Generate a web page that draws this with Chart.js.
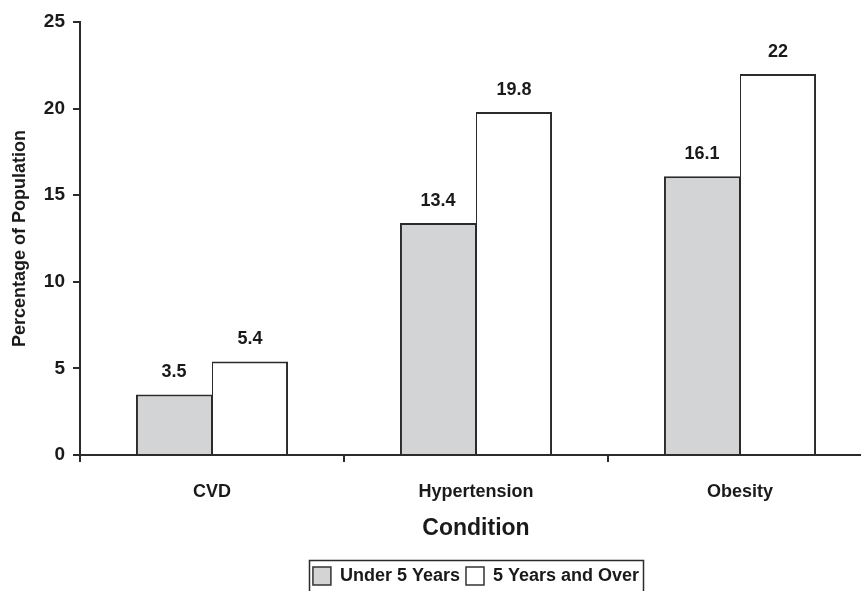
<!DOCTYPE html>
<html>
<head>
<meta charset="utf-8">
<script src="https://cdn.jsdelivr.net/npm/chart.js@4"></script>
<style>
  html, body { margin: 0; padding: 0; background: #ffffff; overflow: hidden; }
  #wrap { position: relative; width: 876px; height: 591px; }
</style>
</head>
<body>
<div id="wrap"><canvas id="c"></canvas></div>
<script>
// Prevalence of conditions by duration of residence
const categories = ['CVD', 'Hypertension', 'Obesity'];
const under5Years = [3.5, 13.4, 16.1];
const over5Years = [5.4, 19.8, 22];
const seriesNames = ['Under 5 Years', '5 Years and Over'];
const yTicks = [0, 5, 10, 15, 20, 25];

const FONT = '"Liberation Sans", Arial, sans-serif';
const INK = '#1a1a1a';
const LINE = '#2b2b2b';

// Writes each bar's value just above it
const valueLabels = {
  id: 'valueLabels',
  afterDatasetsDraw(chart) {
    const ctx = chart.ctx;
    ctx.save();
    ctx.font = 'bold 18px ' + FONT;
    ctx.fillStyle = INK;
    ctx.textAlign = 'center';
    ctx.textBaseline = 'middle';
    chart.data.datasets.forEach((ds, i) => {
      chart.getDatasetMeta(i).data.forEach((bar, j) => {
        ctx.fillText(String(ds.data[j]), bar.x, bar.y - 22);
      });
    });
    ctx.restore();
  }
};

// Frames the legend with a thin box
const legendFrame = {
  id: 'legendFrame',
  afterDraw(chart) {
    const lg = chart.legend;
    if (!lg || !lg.legendHitBoxes.length) return;
    const first = lg.legendHitBoxes[0];
    const last = lg.legendHitBoxes[lg.legendHitBoxes.length - 1];
    const ctx = chart.ctx;
    ctx.save();
    ctx.strokeStyle = LINE;
    ctx.lineWidth = 1.5;
    const x0 = Math.round(first.left) - 3.5, x1 = Math.round(last.left + last.width) + 4.5;
    const y0 = Math.round(first.top) - 6.5, y1 = first.top + first.height + 20;
    ctx.strokeRect(x0, y0, x1 - x0, y1 - y0);
    ctx.restore();
  }
};

new Chart(document.getElementById('c'), {
  type: 'bar',
  data: {
    labels: categories,
    datasets: [
      {
        label: seriesNames[0],
        data: under5Years,
        backgroundColor: '#d3d4d6',
        borderColor: LINE,
        borderWidth: { top: 2, left: 2, right: 1, bottom: 0 },
        borderSkipped: false
      },
      {
        label: seriesNames[1],
        data: over5Years,
        backgroundColor: '#ffffff',
        borderColor: LINE,
        borderWidth: { top: 2, left: 1, right: 2, bottom: 0 },
        borderSkipped: false
      }
    ]
  },
  options: {
    responsive: true,
    maintainAspectRatio: false,
    animation: false,
    devicePixelRatio: 1,
    layout: { padding: { top: 22, left: 0, right: 4, bottom: -4 } },
    datasets: { bar: { categoryPercentage: 0.576, barPercentage: 1.0 } },
    plugins: {
      tooltip: { enabled: false },
      legend: {
        position: 'bottom',
        align: 'center',
        fullSize: false,
        labels: {
          color: INK,
          font: { family: FONT, size: 18, weight: 'bold' },
          boxWidth: 18,
          boxHeight: 18,
          padding: 6,
          generateLabels(chart) {
            return chart.data.datasets.map((ds, i) => ({
              text: ds.label,
              fillStyle: ds.backgroundColor,
              strokeStyle: '#333333',
              lineWidth: 1.5,
              hidden: false,
              datasetIndex: i,
              fontColor: INK
            }));
          }
        }
      }
    },
    scales: {
      x: {
        offset: true,
        afterFit(scale) { scale.height = 106; },
        border: { display: true, color: LINE, width: 2 },
        grid: {
          offset: true,
          drawOnChartArea: false,
          drawTicks: true,
          tickLength: 7,
          color: LINE,
          lineWidth: 2
        },
        ticks: {
          color: INK,
          font: { family: FONT, size: 18, weight: 'bold' },
          padding: 19
        },
        title: {
          display: true,
          text: 'Condition',
          color: INK,
          font: { family: FONT, size: 23, weight: 'bold' },
          padding: { top: 0, bottom: 19 }
        }
      },
      y: {
        min: 0,
        max: 25,
        afterBuildTicks(scale) {
          scale.ticks = yTicks.map(v => ({ value: v }));
        },
        afterFit(scale) { scale.width = 80; },
        border: { display: true, color: LINE, width: 2 },
        grid: {
          drawOnChartArea: false,
          drawTicks: true,
          tickLength: 7,
          color: LINE,
          lineWidth: 2
        },
        ticks: {
          color: INK,
          font: { family: FONT, size: 19, weight: 'bold' },
          padding: 8
        },
        title: {
          display: true,
          text: 'Percentage of Population',
          color: INK,
          font: { family: FONT, size: 18, weight: 'bold' },
          padding: { top: 9, bottom: 0 }
        }
      }
    }
  },
  plugins: [valueLabels, legendFrame]
});
</script>
</body>
</html>
